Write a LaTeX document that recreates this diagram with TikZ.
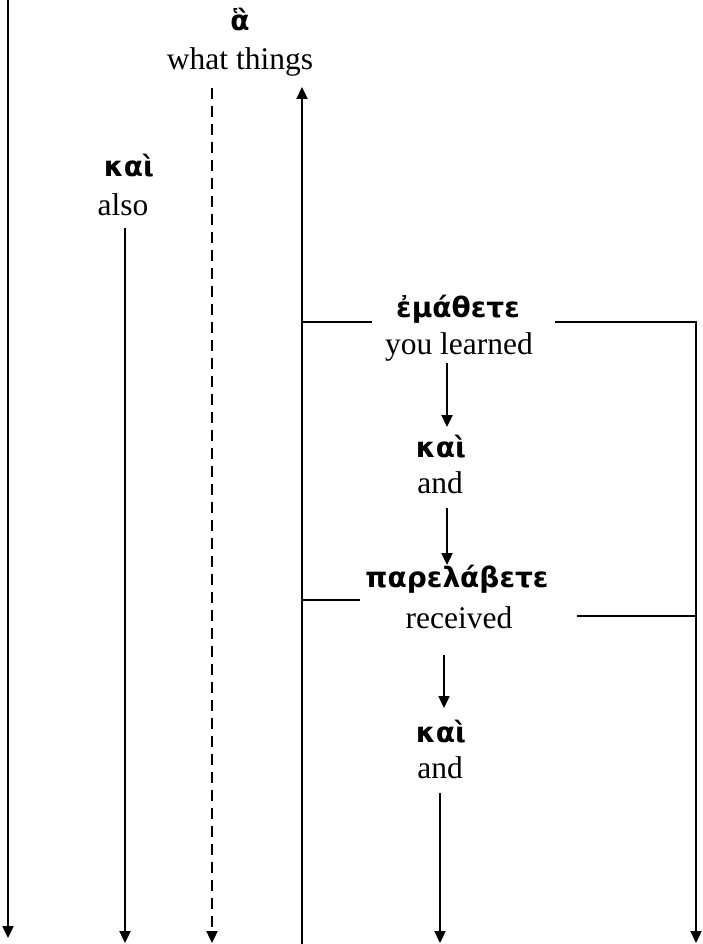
\documentclass[tikz,border=0pt]{standalone}
\usepackage{fontspec}
\setmainfont{Liberation Serif}
\newfontfamily\grk{DejaVu Sans}
\usetikzlibrary{arrows.meta}
\begin{document}
\begin{tikzpicture}[x=1pt,y=-1pt,
  line/.style={line width=2.3pt},
  arr/.style={line width=2.3pt,-{Triangle[length=12pt,width=11pt]}},
  gk/.style={font=\grk\bfseries\fontsize{28}{33}\selectfont,anchor=base,inner sep=0pt},
  en/.style={font=\fontsize{31.5}{38}\selectfont,anchor=base,inner sep=0pt}]
\useasboundingbox (0,0) rectangle (703,944);

% words
\node[gk] (ha)    at (240,31)  {ἃ};
\node[en] (what)  at (240,70)  {what things};
\node[gk] (kaiA)  at (129,177) {καὶ};
\node[en] (also)  at (123,215) {also};
\node[gk] (ema)   at (458,317) {ἐμάθετε};
\node[en] (learn) at (459,354) {you learned};
\node[gk] (kaiB)  at (441,457) {καὶ};
\node[en] (andB)  at (440,493) {and};
\node[gk] (para)  at (457,587) {παρελάβετε};
\node[en] (recv)  at (459,628) {received};
\node[gk] (kaiC)  at (441,742) {καὶ};
\node[en] (andC)  at (440,778) {and};

% line ends
\coordinate (leftTop) at (8,0);     \coordinate (leftEnd) at (8,938);
\coordinate (alsoTop) at (125,228); \coordinate (alsoEnd) at (125,943);
\coordinate (haTop)   at (212,88);  \coordinate (haEnd)   at (212,943);
\coordinate (spineB)  at (302,944); \coordinate (spineT)  at (302,87);
\coordinate (emaL)    at (302,322); \coordinate (emaLe)   at (372,322);
\coordinate (emaR)    at (555,322); \coordinate (rightC)  at (696,322);
\coordinate (rightEnd) at (696,943);
\coordinate (paraL)   at (302,600); \coordinate (paraLe)  at (360,600);
\coordinate (recvR)   at (577,616); \coordinate (recvRe)  at (696,616);
\coordinate (m1a) at (447,363); \coordinate (m1b) at (447,427);
\coordinate (m2a) at (447,508); \coordinate (m2b) at (447,565);
\coordinate (m3a) at (444,655); \coordinate (m3b) at (444,708);
\coordinate (m4a) at (440,793); \coordinate (m4b) at (440,943);

% connectors
\draw[arr] (leftTop) -- (leftEnd);
\draw[arr] (alsoTop) -- (alsoEnd);
\draw[arr,dash pattern=on 11pt off 7pt] (haTop) -- (haEnd);
\draw[arr] (spineB) -- (spineT);
\draw[line] (emaL) -- (emaLe);
\draw[arr] (emaR) -- (rightC) -- (rightEnd);
\draw[line] (paraL) -- (paraLe);
\draw[line] (recvR) -- (recvRe);
\draw[arr] (m1a) -- (m1b);
\draw[arr] (m2a) -- (m2b);
\draw[arr] (m3a) -- (m3b);
\draw[arr] (m4a) -- (m4b);
\end{tikzpicture}
\end{document}
